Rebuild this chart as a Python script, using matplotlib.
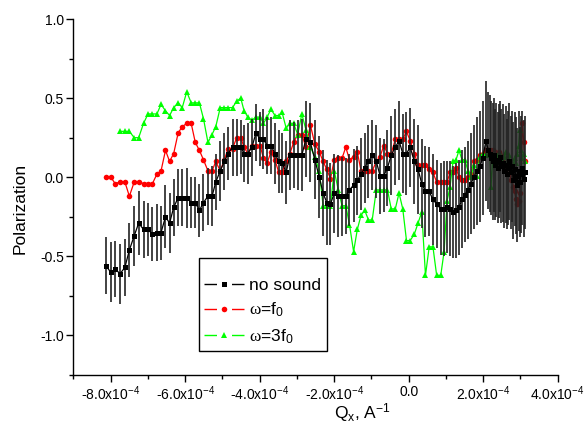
import numpy as np
import matplotlib
matplotlib.use("Agg")
import matplotlib.pyplot as plt
from matplotlib.lines import Line2D
from matplotlib.ticker import MultipleLocator, FuncFormatter

plt.rcParams['font.family'] = ['Liberation Sans', 'DejaVu Sans']
plt.rcParams['mathtext.fontset'] = 'custom'
plt.rcParams['mathtext.rm'] = 'Liberation Sans'
plt.rcParams['mathtext.it'] = 'Liberation Sans:italic'
plt.rcParams['mathtext.bf'] = 'Liberation Sans:bold'
plt.rcParams['mathtext.sf'] = 'Liberation Serif'

# Q_x grid, in units of 1e-4 A^-1 (shared by all three scans)
qx_e4 = [
    -8.13, -8.00, -7.88, -7.75, -7.62, -7.50, -7.37, -7.25, -7.12, -7.00,
    -6.88, -6.76, -6.65, -6.53, -6.42, -6.31, -6.19, -6.08, -5.96, -5.84,
    -5.73, -5.62, -5.51, -5.39, -5.28, -5.18, -5.06, -4.95, -4.85, -4.73,
    -4.62, -4.51, -4.42, -4.32, -4.21, -4.10, -3.99, -3.90, -3.80, -3.70,
    -3.59, -3.49, -3.40, -3.29, -3.19, -3.09, -2.98, -2.87, -2.76, -2.64,
    -2.52, -2.40, -2.30, -2.20, -2.10, -2.00, -1.89, -1.79, -1.69, -1.59,
    -1.48, -1.38, -1.28, -1.18, -1.08, -0.98, -0.87, -0.77, -0.67, -0.57,
    -0.47, -0.36, -0.26, -0.16, -0.06, 0.04, 0.15, 0.25, 0.35, 0.45,
    0.55, 0.65, 0.75, 0.86, 0.95, 1.03, 1.11, 1.19, 1.27, 1.35,
    1.43, 1.51, 1.59, 1.67, 1.75, 1.83, 1.91, 1.99, 2.07, 2.14,
    2.18, 2.21, 2.25, 2.28, 2.32, 2.35, 2.39, 2.42, 2.46, 2.49,
    2.53, 2.56, 2.60, 2.63, 2.67, 2.70, 2.74, 2.77, 2.81, 2.84,
    2.88, 2.91, 2.95, 2.98, 3.02, 3.05, 3.09, 3.12,
]

# no sound
pol_nosound = [
    -0.56, -0.60, -0.58, -0.61, -0.57, -0.46, -0.37, -0.29, -0.33, -0.33,
    -0.36, -0.35, -0.35, -0.25, -0.29, -0.19, -0.13, -0.13, -0.13, -0.16,
    -0.16, -0.21, -0.16, -0.12, -0.12, -0.03, 0.04, 0.10, 0.15, 0.19,
    0.19, 0.19, 0.15, 0.15, 0.19, 0.28, 0.24, 0.24, 0.20, 0.20,
    0.15, 0.10, 0.09, 0.03, 0.14, 0.14, 0.14, 0.14, 0.24, 0.22,
    0.11, 0.00, -0.10, -0.16, -0.17, -0.10, -0.12, -0.12, -0.12, -0.08,
    -0.05, -0.02, 0.02, 0.06, 0.10, 0.14, 0.10, 0.01, 0.01, 0.06,
    0.14, 0.19, 0.23, 0.15, 0.15, 0.19, 0.10, 0.05, -0.04, -0.09,
    -0.09, -0.14, -0.17, -0.20, -0.20, -0.19, -0.20, -0.22, -0.21, -0.19,
    -0.14, -0.11, -0.08, -0.04, 0.00, 0.04, 0.07, 0.12, 0.23, 0.17,
    0.15, 0.12, 0.10, 0.14, 0.08, 0.11, 0.06, 0.10, 0.13, 0.07,
    0.09, 0.04, 0.08, 0.02, 0.06, 0.10, 0.03, 0.07, -0.02, 0.05,
    0.01, -0.05, 0.04, -0.03, 0.02, 0.06, -0.01, 0.03,
]
err_nosound = [
    0.18, 0.19, 0.18, 0.19, 0.18, 0.17, 0.19, 0.20, 0.18, 0.17,
    0.17, 0.18, 0.17, 0.20, 0.19, 0.18, 0.18, 0.18, 0.19, 0.16,
    0.16, 0.17, 0.18, 0.18, 0.19, 0.18, 0.19, 0.18, 0.17, 0.18,
    0.18, 0.17, 0.18, 0.19, 0.18, 0.18, 0.17, 0.19, 0.18, 0.18,
    0.19, 0.20, 0.19, 0.20, 0.22, 0.21, 0.22, 0.23, 0.24, 0.25,
    0.25, 0.26, 0.27, 0.27, 0.26, 0.25, 0.26, 0.25, 0.24, 0.23,
    0.23, 0.22, 0.23, 0.22, 0.23, 0.22, 0.23, 0.24, 0.23, 0.24,
    0.25, 0.24, 0.25, 0.25, 0.26, 0.25, 0.27, 0.28, 0.28, 0.29,
    0.28, 0.29, 0.28, 0.29, 0.30, 0.29, 0.30, 0.29, 0.30, 0.30,
    0.31, 0.30, 0.31, 0.32, 0.33, 0.34, 0.35, 0.36, 0.38, 0.37,
    0.37, 0.36, 0.37, 0.36, 0.35, 0.36, 0.35, 0.36, 0.35, 0.36,
    0.37, 0.36, 0.37, 0.35, 0.36, 0.37, 0.36, 0.35, 0.37, 0.36,
    0.37, 0.36, 0.38, 0.35, 0.37, 0.36, 0.37, 0.36,
]

# omega = f0
pol_f0 = [
    0.00, 0.00, -0.04, -0.03, -0.03, -0.12, -0.03, -0.03, -0.04, -0.04,
    -0.04, 0.02, 0.04, 0.17, 0.10, 0.15, 0.28, 0.32, 0.34, 0.34,
    0.22, 0.17, 0.11, 0.04, 0.04, 0.10, 0.04, 0.11, 0.18, 0.18,
    0.25, 0.25, 0.19, 0.15, 0.20, 0.20, 0.20, 0.12, 0.09, 0.16,
    0.11, 0.03, 0.03, 0.10, 0.15, 0.22, 0.27, 0.27, 0.19, 0.33,
    0.21, 0.16, 0.10, 0.05, -0.01, 0.11, 0.12, 0.12, 0.19, 0.11,
    0.13, 0.16, 0.04, 0.04, 0.04, 0.04, 0.10, 0.13, 0.20, 0.15,
    0.15, 0.24, 0.24, 0.24, 0.29, 0.23, 0.15, 0.08, 0.08, 0.08,
    0.05, 0.03, -0.03, -0.03, -0.03, -0.03, 0.03, 0.03, 0.06, 0.00,
    -0.02, -0.02, 0.00, 0.02, 0.10, 0.11, 0.14, 0.15, 0.17, 0.17,
    0.17, 0.15, 0.17, 0.14, 0.16, 0.15, 0.12, 0.16, 0.14, 0.10,
    0.12, 0.07, 0.06, 0.08, 0.03, 0.05, -0.02, 0.01, -0.06, -0.09,
    -0.14, -0.17, -0.15, -0.10, 0.02, 0.34, 0.22, 0.10,
]

# omega = 3 f0 (scan starts at the 4th Q point)
pol_3f0 = [
    0.29, 0.29, 0.29, 0.25, 0.25, 0.34, 0.40,
    0.40, 0.40, 0.46, 0.42, 0.39, 0.44, 0.47, 0.44, 0.54, 0.47,
    0.47, 0.47, 0.37, 0.22, 0.27, 0.32, 0.44, 0.44, 0.44, 0.44,
    0.48, 0.50, 0.42, 0.38, 0.36, 0.38, 0.38, 0.34, 0.38, 0.43,
    0.39, 0.39, 0.41, 0.31, 0.34, 0.34, 0.27, 0.40, 0.30, 0.19,
    0.13, 0.04, -0.18, -0.18, -0.18, 0.04, -0.08, -0.18, -0.18, -0.30,
    -0.47, -0.33, -0.24, -0.21, -0.27, -0.27, -0.08, -0.08, -0.08, -0.08,
    -0.20, -0.20, -0.10, -0.20, -0.40, -0.40, -0.36, -0.29, -0.22, -0.62,
    -0.44, -0.44, -0.62, -0.62, -0.47, -0.15, -0.06, 0.10, 0.11, 0.17,
    0.11, 0.11, 0.04, 0.00, 0.08, 0.01, 0.13, 0.15, 0.14, 0.14,
    0.14, -0.06, 0.10, 0.11, 0.14, 0.12, 0.14, 0.10, 0.15, 0.12,
    0.08, 0.13, 0.16, 0.09, 0.11, 0.14, 0.07, 0.10, 0.05, 0.12,
    0.09, 0.15, 0.20, 0.30, 0.17, 0.12, 0.15, 0.10,
]

labels = ['no sound', r'$\mathsf{\omega}$=f$_0$', r'$\mathsf{\omega}$=3f$_0$']

qx = np.array(qx_e4) * 1e-4
qx_3f0 = qx[len(qx) - len(pol_3f0):]

fig = plt.figure(figsize=(5.87, 4.34), dpi=100)
ax = fig.add_axes([0.1252, 0.1359, 0.8249, 0.8203])

ax.plot(qx, pol_f0, '-o', color='#ff0000', ms=4.0, mew=0, lw=0.9, zorder=3)
ax.plot(qx_3f0, pol_3f0, '-^', color='#00ff00', ms=4.6, mew=0, lw=0.9, zorder=4)
ax.errorbar(qx, pol_nosound, yerr=err_nosound, fmt='-s', color='k', ms=3.6,
            mew=0, lw=0.9, ecolor='#222222', elinewidth=1.2, capsize=2.4,
            capthick=1.0, zorder=5)

ax.set_xlim(-9e-4, 4e-4)
ax.set_ylim(-1.25, 1.0)

for side in ('top', 'right'):
    ax.spines[side].set_visible(False)
for side in ('left', 'bottom'):
    ax.spines[side].set_linewidth(1.0)

ax.xaxis.set_major_locator(MultipleLocator(2e-4))
ax.xaxis.set_minor_locator(MultipleLocator(1e-4))
ax.yaxis.set_major_locator(MultipleLocator(0.5))
ax.yaxis.set_minor_locator(MultipleLocator(0.25))


def fmt_q(v, pos):
    m = v / 1e-4
    if abs(m) < 1e-6:
        return '0.0'
    return f'{m:.1f}x10$^{{-4}}$'


ax.xaxis.set_major_formatter(FuncFormatter(fmt_q))
ax.yaxis.set_major_formatter(FuncFormatter(lambda v, pos: f'{v:.1f}'))

ax.tick_params(which='major', direction='out', length=5, width=1.0,
               labelsize=10, pad=2)
ax.tick_params(which='minor', direction='out', length=3, width=1.0)

ax.set_xlabel(r'Q$_\mathrm{x}$, A$^{-1}$', fontsize=12.5)
ax.xaxis.set_label_coords(0.596, -0.073)
ax.set_ylabel('Polarization', fontsize=12.5)
ax.yaxis.set_label_coords(-0.095, 0.469)

# legend keys: line - gap - marker - gap - line
handles = [
    Line2D([], [], color='k', marker='s', ms=3.6, mew=0, lw=1.0, dashes=(9.0, 10.8)),
    Line2D([], [], color='#ff0000', marker='o', ms=4.0, mew=0, lw=1.0, dashes=(9.0, 10.8)),
    Line2D([], [], color='#00ff00', marker='^', ms=4.6, mew=0, lw=1.0, dashes=(9.0, 10.8)),
]
leg = ax.legend(handles, labels, loc='lower left',
                bbox_to_anchor=(199 / 587, 1 - 351 / 434),
                bbox_transform=fig.transFigure, borderaxespad=0,
                frameon=True, fancybox=False, edgecolor='k', framealpha=1,
                fontsize=12.5, handlelength=2.3, handletextpad=0.3,
                borderpad=0.3, labelspacing=0.45,
                title=' ', title_fontsize=6)
leg.get_frame().set_linewidth(1.0)

fig.savefig('out.png', dpi=100)
